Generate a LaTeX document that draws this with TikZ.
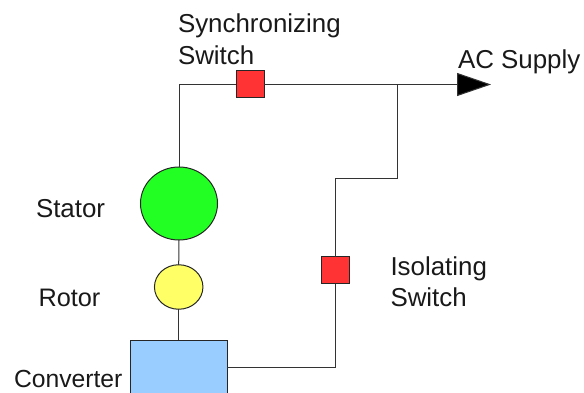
\documentclass[tikz,border=0pt]{standalone}
\usepackage{fontspec}
\setmainfont{Liberation Sans}
\usetikzlibrary{arrows.meta,shapes.geometric}
\definecolor{swred}{HTML}{FF3333}
\definecolor{statgreen}{HTML}{22FF22}
\definecolor{rotyellow}{HTML}{FFFF66}
\definecolor{convblue}{HTML}{99CCFF}
\definecolor{wire}{HTML}{333333}
\tikzset{
  x=1pt,y=-1pt,
  lab/.style={inner sep=0pt,outer sep=0pt,anchor=base west,align=left,font=\fontsize{25.9}{31.5}\selectfont,text=black!90},
  switchbox/.style={draw=black!85,line width=1pt,fill=swred,minimum width=28pt,minimum height=27pt,inner sep=0pt,outer sep=0pt},
  wireline/.style={draw=wire,line width=1pt},
  machine/.style={draw=black!85,line width=1pt,inner sep=0pt,outer sep=0pt,ellipse}
}
\begin{document}
\begin{tikzpicture}
\useasboundingbox (0,0) rectangle (584,393);
\clip (0,0) rectangle (584,393);
\node[machine,fill=statgreen,minimum width=77pt,minimum height=73pt] (stator) at (179,203.5) {};
\node[machine,fill=rotyellow,minimum width=48.5pt,minimum height=44.5pt] (rotor) at (178.7,287) {};
\node[draw=black!85,line width=1pt,fill=convblue,minimum width=97pt,minimum height=54pt,inner sep=0pt,outer sep=0pt] (conv) at (178.7,367.3) {};
\node[switchbox] (sync) at (250,84.5) {};
\node[switchbox] (iso) at (335.7,270) {};
\coordinate (acend) at (491,84.5);
\coordinate (junction) at (397,84.5);
\coordinate (jog) at (397,179);
\coordinate (jogb) at (335.7,179);
\draw[wireline] (stator.north) |- (sync.west);
\draw[wireline,-{Triangle[length=34pt,width=23pt,fill=black]}] (sync.east) -- (acend);
\draw[wireline] (junction) -- (jog) -- (jogb) -- (iso.north);
\draw[wireline] (iso.south) |- (conv.east);
\draw[wireline] (stator.south) -- (rotor.north);
\draw[wireline] (rotor.south) -- (conv.north);
\node[lab] (tsync) at (178,33) {Synchronizing};
\node[lab] (tsyncb) at (178,65) {Switch};
\node[lab] (tac) at (458,69) {AC Supply};
\node[lab] (tstat) at (36,217) {Stator};
\node[lab,font=\fontsize{25.3}{31.5}\selectfont] (trot) at (38.5,306) {Rotor};
\node[lab,font=\fontsize{24.7}{31.5}\selectfont] (tconv) at (14,387) {Converter};
\node[lab] (tiso) at (390.5,275) {Isolating};
\node[lab] (tisob) at (390.5,306) {Switch};
\end{tikzpicture}
\end{document}
